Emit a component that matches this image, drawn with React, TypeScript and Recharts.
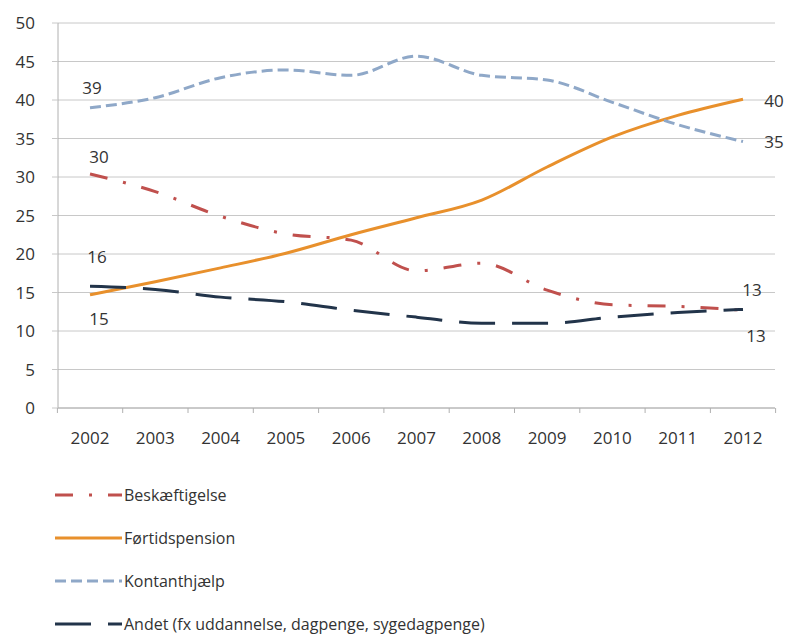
import { CartesianGrid, Line, LineChart, XAxis, YAxis } from "recharts";

const years = ["2002", "2003", "2004", "2005", "2006", "2007", "2008", "2009", "2010", "2011", "2012"];
const beskaeftigelse = [30.4, 28.1, 24.9, 22.6, 21.8, 17.8, 18.8, 15.3, 13.4, 13.2, 12.7];
const foertidspension = [14.7, 16.4, 18.2, 20.1, 22.5, 24.7, 27.0, 31.3, 35.2, 38.0, 40.1];
const kontanthjaelp = [39.0, 40.3, 42.9, 43.9, 43.2, 45.7, 43.2, 42.6, 39.7, 36.8, 34.6];
const andet = [15.8, 15.4, 14.4, 13.8, 12.7, 11.8, 11.0, 11.0, 11.8, 12.4, 12.8];
const yTicks = [0, 5, 10, 15, 20, 25, 30, 35, 40, 45, 50];

const data = years.map((year, i) => ({
  year,
  beskaeftigelse: beskaeftigelse[i],
  foertidspension: foertidspension[i],
  kontanthjaelp: kontanthjaelp[i],
  andet: andet[i],
}));

const FONT = "'Open Sans', sans-serif";
const TEXT_COLOR = "#333";
const HALF_BAND = 32.6;

type Offset = [number, number] | null;

interface Series {
  key: string;
  name: string;
  color: string;
  dash?: string;
  first: Offset;
  last: Offset;
}

const series: Series[] = [
  { key: "beskaeftigelse", name: "Beskæftigelse", color: "#c0504d", dash: "18 16 3 16", first: [9, -17], last: [9, -21] },
  { key: "foertidspension", name: "Førtidspension", color: "#e8902c", first: [9, 24], last: [31, 1] },
  { key: "kontanthjaelp", name: "Kontanthjælp", color: "#8fa8c8", dash: "11 5", first: [2, -20], last: [31, 0] },
  { key: "andet", name: "Andet (fx uddannelse, dagpenge, sygedagpenge)", color: "#22344a", dash: "36 17", first: [7, -30], last: [13, 26] },
];

function endLabel(first: Offset, last: Offset) {
  return (props: any) => {
    const { x, y, index, value } = props;
    let off: Offset = null;
    if (index === 0) off = first;
    else if (index === years.length - 1) off = last;
    if (!off || x == null || y == null) return <g key={`l-${index}`} />;
    return (
      <text
        key={`l-${index}`}
        x={x + off[0]}
        y={y + off[1]}
        textAnchor="middle"
        dominantBaseline="central"
        fontFamily={FONT}
        fontSize={17}
        fill={TEXT_COLOR}
      >
        {Math.round(value)}
      </text>
    );
  };
}

// Excel-style category ticks sit between the years, not under them
function YearTick({ x, y, payload, index }: any) {
  const axisY = y - 24;
  const isLast = index === years.length - 1;
  return (
    <g>
      <line x1={x - HALF_BAND} y1={axisY} x2={x - HALF_BAND} y2={axisY + 5} stroke="#b0b0b0" />
      {isLast && <line x1={x + HALF_BAND} y1={axisY} x2={x + HALF_BAND} y2={axisY + 5} stroke="#b0b0b0" />}
      <text x={x} y={y} dy="0.71em" textAnchor="middle" fontFamily={FONT} fontSize={17} fill={TEXT_COLOR}>
        {payload.value}
      </text>
    </g>
  );
}

function LegendList() {
  return (
    <div style={{ position: "absolute", left: 55, top: 473, fontFamily: FONT, fontSize: 16, color: TEXT_COLOR }}>
      {series.map((s) => (
        <div key={s.key} style={{ display: "flex", alignItems: "center", height: 43 }}>
          <svg width={67} height={10} style={{ marginRight: 2 }}>
            <line x1={0} y1={5} x2={67} y2={5} stroke={s.color} strokeWidth={3} strokeDasharray={s.dash} />
          </svg>
          <span>{s.name}</span>
        </div>
      ))}
    </div>
  );
}

export default function App() {
  return (
    <div style={{ position: "absolute", left: 0, top: 0, width: 787, height: 637, background: "#fff" }}>
      <LineChart width={787} height={460} data={data} margin={{ top: 23, right: 12, left: 0, bottom: 22 }}>
        <CartesianGrid stroke="#c8c8c8" vertical={false} />
        <XAxis
          dataKey="year"
          padding={{ left: 32, right: 32 }}
          tick={<YearTick />}
          tickLine={false}
          tickSize={6}
          tickMargin={18}
          axisLine={{ stroke: "#b0b0b0" }}
          height={30}
          interval={0}
        />
        <YAxis
          domain={[0, 50]}
          ticks={yTicks}
          tick={{ fontSize: 17, fill: TEXT_COLOR, fontFamily: FONT }}
          tickLine={{ stroke: "#c8c8c8" }}
          tickSize={6}
          tickMargin={17}
          axisLine={{ stroke: "#b0b0b0" }}
          width={58}
          interval={0}
        />
        {series.map((s) => (
          <Line
            key={s.key}
            dataKey={s.key}
            name={s.name}
            type="monotone"
            stroke={s.color}
            strokeWidth={3}
            strokeDasharray={s.dash}
            dot={false}
            activeDot={false}
            isAnimationActive={false}
            label={endLabel(s.first, s.last)}
          />
        ))}
      </LineChart>
      <LegendList />
    </div>
  );
}
